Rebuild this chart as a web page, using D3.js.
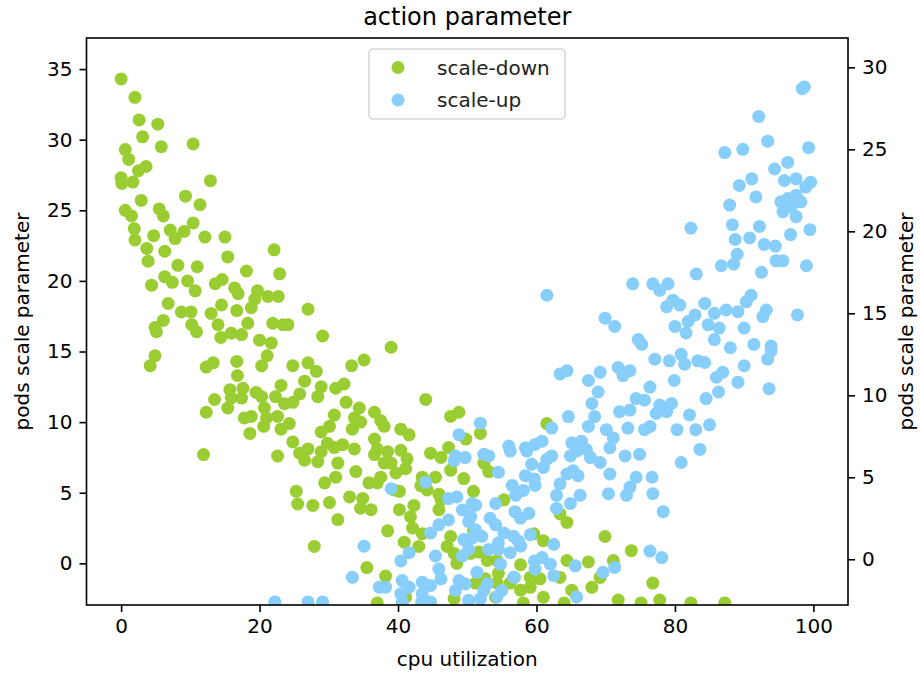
<!DOCTYPE html>
<html>
<head>
<meta charset="utf-8">
<script src="https://cdn.jsdelivr.net/npm/d3@7"></script>
<style>
  html, body { margin: 0; padding: 0; background: #fff; }
  svg { display: block; font-family: "DejaVu Sans", sans-serif; }
</style>
</head>
<body>
<div id="chart"></div>
<script>
// scale-down actions: cpu utilization vs pods scale parameter (left axis)
const downCpu = [0.0,2.0,2.6,5.3,3.1,5.8,10.4,0.6,1.1,3.6,2.5,0.0,0.1,1.7,12.9,2.9,9.3,11.4,0.6,5.5,6.1,1.5,1.9,10.4,7.1,9.1,4.7,2.0,12.1,15.0,7.8,3.7,6.3,3.9,22.1,15.4,8.2,11.0,18.1,22.9,6.3,7.4,9.6,4.4,10.7,13.6,14.6,16.4,16.9,19.7,19.3,21.2,22.7,6.8,14.5,8.7,10.1,13.0,16.7,18.8,6.1,4.9,10.2,14.0,18.3,21.9,23.4,27.0,24.1,5.1,10.9,14.4,15.9,17.4,20.0,21.7,4.9,4.2,12.3,13.3,16.7,21.1,20.3,16.8,13.5,15.7,17.6,17.4,15.9,19.5,20.3,22.3,23.1,12.3,15.4,17.8,18.8,20.7,21.0,22.6,23.1,18.6,20.6,11.9,22.6,29.1,39.0,24.8,27.0,28.2,33.3,35.1,26.5,28.9,31.0,32.2,28.4,25.8,24.8,23.6,32.5,34.4,44.0,30.8,33.7,36.6,37.5,38.0,24.3,28.9,30.1,33.4,34.6,40.4,41.6,47.6,48.8,49.8,24.8,25.8,27.0,26.5,28.9,29.8,30.8,32.0,33.7,31.3,28.4,36.6,37.0,36.6,38.5,40.4,41.3,41.1,39.0,39.7,37.5,44.7,46.2,47.3,47.6,49.5,45.4,43.5,44.2,43.3,46.2,33.9,31.0,29.4,35.8,37.0,39.4,25.3,25.5,27.7,30.1,33.0,34.9,34.6,36.1,40.2,42.3,41.8,31.3,38.5,42.1,43.5,40.9,43.0,47.1,48.1,27.9,35.5,48.5,37.0,48.1,38.0,40.2,45.9,50.9,45.9,47.6,51.7,52.9,54.3,38.2,51.2,54.3,41.1,61.5,51.9,52.4,53.1,55.3,63.4,64.4,69.9,73.7,67.5,64.4,71.1,50.9,59.6,61.0,50.5,54.5,57.7,59.1,60.5,52.6,56.2,57.7,68.0,69.2,65.1,76.8,58.1,71.8,77.8,56.8,59.1,63.4,61.0,54.1,82.3,87.2,64.0,75.1];
const downPods = [34.3,33.0,31.4,31.1,30.2,29.5,29.7,29.3,28.6,28.1,27.8,27.3,26.9,27.0,27.1,25.7,26.0,25.4,25.0,25.1,24.6,24.6,23.7,24.1,23.6,23.5,23.2,22.9,23.1,23.1,23.0,22.3,22.1,21.4,22.2,21.7,21.1,21.0,20.7,20.5,20.3,19.9,20.0,19.7,19.3,19.8,20.1,19.5,19.1,19.3,18.7,18.9,18.9,18.4,18.3,17.8,17.8,17.7,17.9,18.1,17.2,16.7,16.9,16.9,17.0,17.0,16.9,18.0,16.9,16.4,16.4,16.0,16.3,16.2,15.8,15.6,14.7,14.0,13.9,14.2,14.3,14.7,14.0,13.3,11.6,12.3,12.4,11.7,11.7,12.1,11.8,11.8,12.6,10.7,11.0,10.3,10.4,11.0,10.3,10.4,9.5,9.2,9.7,7.7,7.6,16.1,15.3,14.0,14.2,13.6,14.0,14.4,12.9,12.5,12.4,12.7,11.8,12.0,11.4,11.3,11.4,11.0,11.6,10.5,10.3,10.7,10.1,9.7,9.9,9.3,9.7,9.5,10.0,9.5,9.1,10.4,10.7,8.8,8.6,7.8,8.1,7.3,7.9,8.5,8.2,8.4,8.1,7.1,7.2,8.8,8.1,7.7,7.9,8.0,7.4,6.7,7.1,6.4,6.1,7.8,7.5,8.2,6.6,6.0,6.1,6.1,5.2,5.5,4.5,6.5,6.1,5.7,5.7,5.7,5.2,5.1,4.2,4.1,4.3,4.7,4.6,3.9,3.8,3.8,4.1,3.3,3.1,2.3,2.5,2.1,1.5,1.2,1.2,0.7,1.2,-0.3,0.0,-2.8,-2.5,7.1,5.1,4.9,5.1,3.8,1.9,0.8,0.2,0.2,-0.9,-1.4,-1.4,-2.4,9.9,9.2,7.1,6.5,4.5,3.5,2.9,1.9,0.9,0.1,0.2,0.2,2.3,2.1,1.6,0.7,-0.7,-0.1,-1.0,-1.1,-1.1,-1.4,-1.9,-1.7,-1.0,-1.9,-1.4,-2.8,-2.6,-2.6,-1.0,-1.7,-1.0,-2.4,-2.4,-2.8,-2.8,-2.8,-2.8];

// scale-up actions: cpu utilization vs pods scale parameter (right axis)
const upCpu = [98.4,98.7,92.1,93.4,87.2,89.8,99.3,94.4,96.3,95.8,91.1,89.3,97.5,99.6,98.9,91.7,87.9,95.3,96.3,97.5,98.2,95.6,97.5,96.8,82.3,88.3,92.2,96.7,99.5,88.7,90.8,92.9,94.5,89.0,88.5,86.7,94.6,95.6,99.0,83.1,92.5,76.8,79.0,77.8,79.7,78.8,80.7,84.3,91.0,90.3,93.2,92.7,87.4,89.1,85.7,82.9,81.9,84.8,97.7,80.0,90.0,81.6,85.7,86.4,91.4,88.0,93.9,93.9,93.4,77.1,79.2,80.9,81.4,83.3,84.3,90.0,86.9,86.0,79.9,89.1,76.4,93.6,86.3,84.5,77.8,79.5,78.8,77.3,82.1,76.4,80.3,83.0,85.0,83.6,80.9,76.7,76.8,78.3,76.4,78.1,61.5,73.9,69.9,71.3,74.7,75.2,63.4,64.4,67.5,69.2,71.8,72.5,73.5,68.9,68.0,74.4,75.6,72.0,73.5,64.6,68.4,67.5,70.1,73.2,75.6,71.1,62.2,51.9,56.0,58.4,59.8,60.8,65.1,66.5,65.8,67.2,67.8,69.2,70.6,72.8,74.9,64.9,52.4,53.1,62.2,59.3,61.0,54.5,58.4,64.4,66.0,70.6,74.4,73.5,56.5,59.8,63.4,57.0,62.9,66.3,70.4,73.0,54.1,62.9,64.9,56.9,58.9,51.2,50.5,53.3,54.1,55.3,56.7,59.1,52.1,53.1,50.2,57.7,56.2,54.8,62.5,60.8,62.0,59.8,62.5,65.6,56.7,51.4,52.9,55.0,51.9,69.6,71.3,65.8,56.2,58.6,61.5,65.3,59.7,58.1,57.7,57.4,54.5,59.7,54.3,39.0,44.0,48.3,49.7,47.3,48.5,50.7,49.3,47.3,45.9,44.7,50.2,51.2,50.7,54.5,41.6,40.4,45.4,49.3,45.9,46.2,40.6,41.6,37.3,38.2,43.5,44.7,43.5,48.8,48.3,49.7,52.4,50.2,40.6,44.7,48.8,48.1,49.5,35.1,33.4,40.4,27.0,29.1,22.2,43.4];
const upPods = [28.7,28.8,27.0,25.5,24.8,25.0,25.1,23.8,24.2,23.1,23.2,22.8,23.2,23.0,22.7,22.1,21.6,21.8,22.0,22.2,21.8,21.2,20.9,21.5,20.2,20.4,20.3,19.8,20.1,19.5,19.6,19.2,19.1,18.6,18.0,17.9,18.2,18.2,17.9,17.4,17.5,16.8,16.8,16.4,15.8,15.4,15.5,15.6,16.1,15.7,15.2,14.8,15.2,15.1,15.0,14.9,14.5,14.3,14.9,14.2,14.1,13.8,13.4,14.1,13.1,12.9,13.0,12.7,12.2,12.2,12.1,12.5,11.9,12.1,12.0,11.8,11.4,11.1,10.9,10.8,10.5,10.4,10.2,9.8,9.4,9.5,9.0,8.9,8.8,8.1,7.9,7.9,8.2,6.7,5.9,5.0,4.0,2.9,0.5,0.1,16.1,16.8,14.7,14.2,13.4,13.1,11.3,11.5,10.9,11.4,11.7,11.2,11.5,10.2,9.5,9.8,9.7,9.0,9.1,8.7,8.7,8.1,7.9,8.0,7.9,7.4,8.0,8.3,6.9,6.8,7.0,7.2,7.1,7.2,6.6,6.7,6.2,5.9,6.8,6.3,6.4,6.3,6.4,6.3,6.3,5.8,5.6,5.3,5.1,5.2,5.1,5.2,5.0,4.4,4.5,4.5,4.6,3.9,3.9,3.9,4.0,3.9,3.4,3.1,3.4,2.9,2.8,3.3,2.6,2.5,2.1,1.6,1.4,1.5,1.4,0.6,0.6,0.8,0.4,-0.3,0.9,0.1,-0.3,-0.6,-1.0,-0.4,-1.1,-0.8,-1.5,-1.9,-2.4,-0.8,-0.5,-2.3,6.6,6.6,6.1,5.4,4.9,4.2,2.5,1.1,0.6,-0.1,-2.3,4.3,4.7,6.3,6.2,3.7,3.8,3.4,3.0,2.4,2.1,1.6,2.3,1.8,1.3,1.0,0.4,-0.1,0.2,0.2,-0.6,-1.2,-1.3,-1.7,-1.7,-1.7,-1.4,-1.6,-2.1,-1.3,-1.9,-1.5,-1.9,-2.5,-2.6,-2.6,7.6,6.0,1.2,0.8,-1.1,-2.1,-2.6,-2.6,-2.6,-2.6];

const xTicks = [0, 20, 40, 60, 80, 100];
const leftTicks = [0, 5, 10, 15, 20, 25, 30, 35];
const rightTicks = [0, 5, 10, 15, 20, 25, 30];
const seriesNames = ["scale-down", "scale-up"];
const seriesColors = ["#9acd32", "#87cefa"];

const W = 920, H = 675;
const plot = { left: 86.5, right: 848, top: 38, bottom: 605 };
const FONT = 20;
const R = 6.5;

const svg = d3.select("#chart").append("svg")
  .attr("width", W).attr("height", H)
  .attr("viewBox", `0 0 ${W} ${H}`);
svg.append("rect").attr("width", W).attr("height", H).attr("fill", "#fff");

const x = d3.scaleLinear().domain([-5, 105]).range([plot.left, plot.right]);
const yL = d3.scaleLinear().domain([-2.95, 37.2]).range([plot.bottom, plot.top]);
const yR = d3.scaleLinear().domain([-2.79, 31.79]).range([plot.bottom, plot.top]);

svg.append("clipPath").attr("id", "plotclip")
  .append("rect")
  .attr("x", plot.left).attr("y", plot.top)
  .attr("width", plot.right - plot.left).attr("height", plot.bottom - plot.top);

const marks = svg.append("g").attr("clip-path", "url(#plotclip)");

const down = downCpu.map((c, i) => ({ c, p: downPods[i] }));
const up = upCpu.map((c, i) => ({ c, p: upPods[i] }));

marks.append("g").selectAll("circle").data(down).join("circle")
  .attr("cx", d => x(d.c)).attr("cy", d => yL(d.p))
  .attr("r", R).attr("fill", seriesColors[0]);

marks.append("g").selectAll("circle").data(up).join("circle")
  .attr("cx", d => x(d.c)).attr("cy", d => yR(d.p))
  .attr("r", R).attr("fill", seriesColors[1]);

// axes
function styleAxis(g) {
  g.selectAll(".domain").remove();
  g.selectAll(".tick line").attr("stroke", "#000").attr("stroke-width", 1.6);
  g.selectAll(".tick text").attr("fill", "#000")
    .style("font-size", FONT + "px").style("font-family", "DejaVu Sans, sans-serif");
}

svg.append("g").attr("transform", `translate(0,${plot.bottom})`)
  .call(d3.axisBottom(x).tickValues(xTicks).tickFormat(d3.format("d")).tickSize(7).tickPadding(7))
  .call(styleAxis);

svg.append("g").attr("transform", `translate(${plot.left},0)`)
  .call(d3.axisLeft(yL).tickValues(leftTicks).tickFormat(d3.format("d")).tickSize(7).tickPadding(7))
  .call(styleAxis);

svg.append("g").attr("transform", `translate(${plot.right},0)`)
  .call(d3.axisRight(yR).tickValues(rightTicks).tickFormat(d3.format("d")).tickSize(7).tickPadding(7))
  .call(styleAxis);

// frame
svg.append("rect")
  .attr("x", plot.left).attr("y", plot.top)
  .attr("width", plot.right - plot.left).attr("height", plot.bottom - plot.top)
  .attr("fill", "none").attr("stroke", "#000").attr("stroke-width", 1.6);

// title and axis labels
const cx = (plot.left + plot.right) / 2;
const cy = (plot.top + plot.bottom) / 2;

svg.append("text").attr("x", cx).attr("y", 25)
  .attr("text-anchor", "middle").style("font-size", "24px")
  .text("action parameter");

svg.append("text").attr("x", cx).attr("y", 666)
  .attr("text-anchor", "middle").style("font-size", FONT + "px")
  .text("cpu utilization");

svg.append("text")
  .attr("transform", `translate(29,${cy}) rotate(-90)`)
  .attr("text-anchor", "middle").style("font-size", FONT + "px")
  .text("pods scale parameter");

svg.append("text")
  .attr("transform", `translate(913,${cy}) rotate(-90)`)
  .attr("text-anchor", "middle").style("font-size", FONT + "px")
  .text("pods scale parameter");

// legend
const legend = svg.append("g");
const lgX = 369, lgY = 49, lgW = 196, lgH = 70;
legend.append("rect")
  .attr("x", lgX).attr("y", lgY).attr("width", lgW).attr("height", lgH)
  .attr("rx", 4).attr("ry", 4)
  .attr("fill", "#fff").attr("fill-opacity", 0.8)
  .attr("stroke", "#d6d6d6").attr("stroke-width", 1.6);

seriesNames.forEach((name, i) => {
  const rowY = lgY + 18.5 + i * 32.5;
  legend.append("circle").attr("cx", lgX + 29).attr("cy", rowY)
    .attr("r", R).attr("fill", seriesColors[i]);
  legend.append("text").attr("x", lgX + 68).attr("y", rowY)
    .attr("dominant-baseline", "central")
    .style("font-size", FONT + "px").attr("fill", "#222")
    .text(name);
});
</script>
</body>
</html>
